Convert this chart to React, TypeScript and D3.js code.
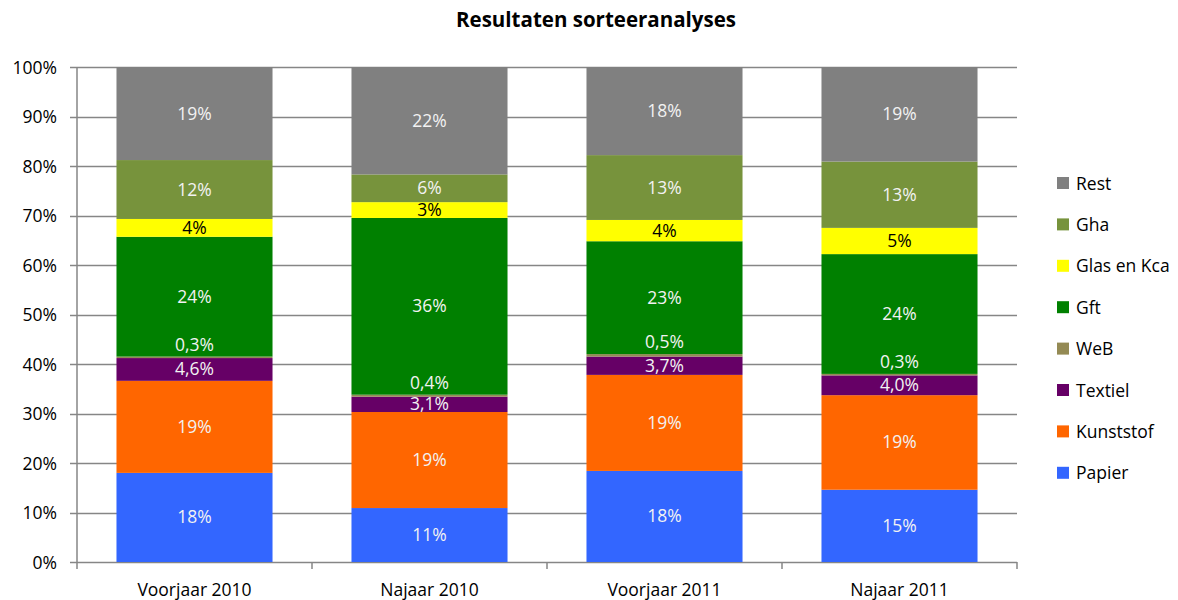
import React from "react";
import * as d3 from "d3";

const categories = ["Voorjaar 2010", "Najaar 2010", "Voorjaar 2011", "Najaar 2011"];
const seriesNames = ["Papier", "Kunststof", "Textiel", "WeB", "Gft", "Glas en Kca", "Gha", "Rest"];
const papier = [18.0, 10.9, 18.4, 14.6];
const kunststof = [18.6, 19.4, 19.4, 19.1];
const textiel = [4.6, 3.1, 3.7, 4.0];
const web = [0.3, 0.4, 0.5, 0.3];
const gft = [24.2, 35.7, 22.8, 24.2];
const glas = [3.6, 3.2, 4.3, 5.3];
const gha = [11.9, 5.6, 13.1, 13.4];
const rest = [18.8, 21.7, 17.8, 19.1];
const yTicks = [0, 10, 20, 30, 40, 50, 60, 70, 80, 90, 100];

const seriesValues = [papier, kunststof, textiel, web, gft, glas, gha, rest];
const colors = ["#3366FF", "#FF6600", "#660066", "#948A54", "#008000", "#FFFF00", "#77933C", "#808080"];
const decimals = [0, 0, 1, 1, 0, 0, 0, 0];
const labelColors = ["#f2f2f2", "#f2f2f2", "#f2f2f2", "#f2f2f2", "#f2f2f2", "#000", "#f2f2f2", "#f2f2f2"];

const W = 1178, H = 600;
const x0 = 77, x1 = 1017, yTop = 67, yBot = 562;
const font = "'Open Sans', sans-serif";
const fs = 17.5;
const grid = "#868686";

export default function App() {
  const x = d3.scaleBand<string>().domain(categories).range([x0, x1]).paddingInner(0.336).paddingOuter(0.168);
  const y = d3.scaleLinear().domain([0, 100]).range([yBot, yTop]);
  const stacked = categories.map((c, ci) => {
    let acc = 0;
    return seriesValues.map((s, si) => {
      const start = acc;
      acc += s[ci];
      return { si, start, end: acc, v: s[ci] };
    });
  });
  const fmt = (v: number, d: number) => v.toFixed(d).replace(".", ",") + "%";
  const step = (x1 - x0) / categories.length;
  const legendOrder = [...seriesNames.keys()].reverse();

  return (
    <svg width={W} height={H} style={{ display: "block", position: "absolute", left: 0, top: 0 }} fontFamily={font}>
      <rect width={W} height={H} fill="#fff" />
      <text x={596} y={27} textAnchor="middle" fontWeight="bold" fontSize={20.5} fill="#000">Resultaten sorteeranalyses</text>
      {yTicks.map(t => (
        <g key={t}>
          <line x1={x0 - 7} x2={x1} y1={Math.round(y(t)) + 0.5} y2={Math.round(y(t)) + 0.5} stroke={grid} strokeWidth={1.5} />
          <text x={57} y={y(t) + 6.5} textAnchor="end" fontSize={fs} fill="#000">{t}%</text>
        </g>
      ))}
      <line x1={x0} x2={x0} y1={yTop} y2={yBot + 7} stroke={grid} strokeWidth={1.5} />
      {d3.range(1, categories.length + 1).map(i => (
        <line key={i} x1={x0 + i * step} x2={x0 + i * step} y1={yBot} y2={yBot + 7} stroke={grid} strokeWidth={1.5} />
      ))}
      {categories.map((c, ci) => (
        <g key={c}>
          {stacked[ci].map(seg => (
            <rect key={seg.si} x={x(c)} width={x.bandwidth()} y={y(seg.end)} height={y(seg.start) - y(seg.end)} fill={colors[seg.si]} />
          ))}
          {stacked[ci].map(seg => {
            let cy = (y(seg.start) + y(seg.end)) / 2;
            if (seriesNames[seg.si] === "WeB") cy = y(seg.end) - 12;
            return (
              <text key={"l" + seg.si} x={(x(c) as number) + x.bandwidth() / 2} y={cy + 6} textAnchor="middle" fontSize={fs} fill={labelColors[seg.si]}>
                {fmt(seg.v, decimals[seg.si])}
              </text>
            );
          })}
          <text x={(x(c) as number) + x.bandwidth() / 2} y={596} textAnchor="middle" fontSize={fs} fill="#000">{c}</text>
        </g>
      ))}
      {legendOrder.map((si, i) => {
        const ly = 183 + i * 41.4;
        return (
          <g key={si}>
            <rect x={1057} y={ly - 6} width={12} height={12} fill={colors[si]} />
            <text x={1076} y={ly + 6.5} fontSize={fs} fill="#000">{seriesNames[si]}</text>
          </g>
        );
      })}
    </svg>
  );
}
